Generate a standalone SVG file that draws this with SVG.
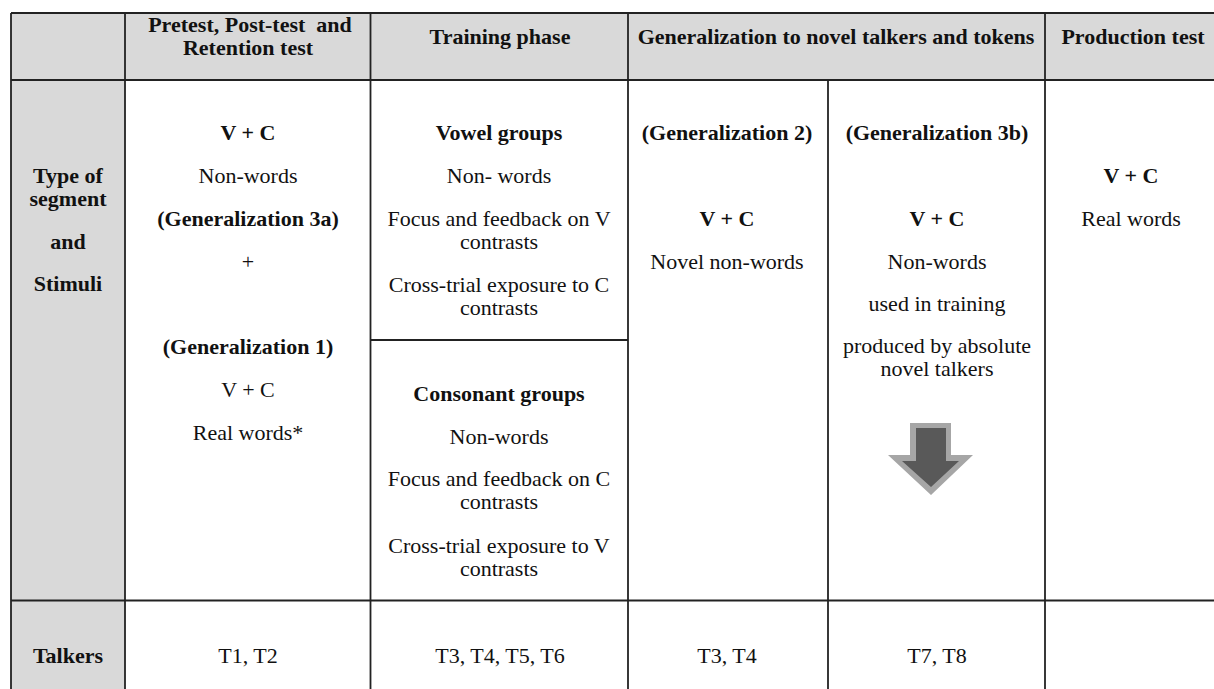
<svg xmlns="http://www.w3.org/2000/svg" width="1214" height="689" viewBox="0 0 1214 689">
<style>
text{font-family:"Liberation Serif","Times New Roman",serif;font-size:22px;fill:#111;text-anchor:middle}
.b{font-weight:bold}
.g{fill:#d9d9d9}
.ln{stroke:#222;stroke-width:1.8;fill:none}
</style>
<rect width="1214" height="689" fill="#fff"/>
<g id="shading">
<rect class="g" x="11" y="13" width="1210" height="67"/>
<rect class="g" x="11" y="80" width="114" height="620"/>
</g>
<g id="grid" class="ln">
<line x1="11" y1="13" x2="1214" y2="13"/>
<line x1="11" y1="80" x2="1214" y2="80"/>
<line x1="11" y1="600.5" x2="1214" y2="600.5"/>
<line x1="370" y1="340" x2="628" y2="340"/>
<line x1="11" y1="13" x2="11" y2="689"/>
<line x1="125" y1="13" x2="125" y2="689"/>
<line x1="370.5" y1="13" x2="370.5" y2="689"/>
<line x1="628" y1="13" x2="628" y2="689"/>
<line x1="828" y1="80" x2="828" y2="689"/>
<line x1="1045" y1="13" x2="1045" y2="689"/>
</g>
<g id="header">
<text class="b" x="250" y="32" xml:space="preserve">Pretest, Post-test  and</text>
<text class="b" x="248" y="55">Retention test</text>
<text class="b" x="500" y="44">Training phase</text>
<text class="b" x="836" y="44">Generalization to novel talkers and tokens</text>
<text class="b" x="1133" y="44">Production test</text>
</g>
<g id="rowlabel">
<text class="b" x="68" y="183">Type of</text>
<text class="b" x="68" y="206">segment</text>
<text class="b" x="68" y="249">and</text>
<text class="b" x="68" y="291">Stimuli</text>
</g>
<g id="pretest">
<text class="b" x="248" y="140">V + C</text>
<text x="248" y="183">Non-words</text>
<text class="b" x="248" y="226">(Generalization 3a)</text>
<text x="248" y="269">+</text>
<text class="b" x="248" y="354">(Generalization 1)</text>
<text x="248" y="397">V + C</text>
<text x="248" y="440">Real words*</text>
</g>
<g id="vowel-groups">
<text class="b" x="499" y="140">Vowel groups</text>
<text x="499" y="183">Non- words</text>
<text x="499" y="226">Focus and feedback on V</text>
<text x="499" y="249">contrasts</text>
<text x="499" y="292">Cross-trial exposure to C</text>
<text x="499" y="315">contrasts</text>
</g>
<g id="consonant-groups">
<text class="b" x="499" y="401">Consonant groups</text>
<text x="499" y="444">Non-words</text>
<text x="499" y="486">Focus and feedback on C</text>
<text x="499" y="509">contrasts</text>
<text x="499" y="553">Cross-trial exposure to V</text>
<text x="499" y="576">contrasts</text>
</g>
<g id="gen2">
<text class="b" x="727" y="140">(Generalization 2)</text>
<text class="b" x="727" y="226">V + C</text>
<text x="727" y="269">Novel non-words</text>
</g>
<g id="gen3b">
<text class="b" x="937" y="140">(Generalization 3b)</text>
<text class="b" x="937" y="226">V + C</text>
<text x="937" y="269">Non-words</text>
<text x="937" y="311">used in training</text>
<text x="937" y="353">produced by absolute</text>
<text x="937" y="376">novel talkers</text>
<polygon points="910,423 951,423 951,455 973,455 931,495 888,455 910,455" fill="#a6a6a6"/>
<polygon points="916,428 946,428 946,461 959,461 931,487 902,461 916,461" fill="#595959"/>
</g>
<g id="production">
<text class="b" x="1131" y="183">V + C</text>
<text x="1131" y="226">Real words</text>
</g>
<g id="talkers">
<text class="b" x="68" y="663">Talkers</text>
<text x="248" y="663">T1, T2</text>
<text x="500" y="663">T3, T4, T5, T6</text>
<text x="727" y="663">T3, T4</text>
<text x="937" y="663">T7, T8</text>
</g>
<g id="connectors"></g>
</svg>
